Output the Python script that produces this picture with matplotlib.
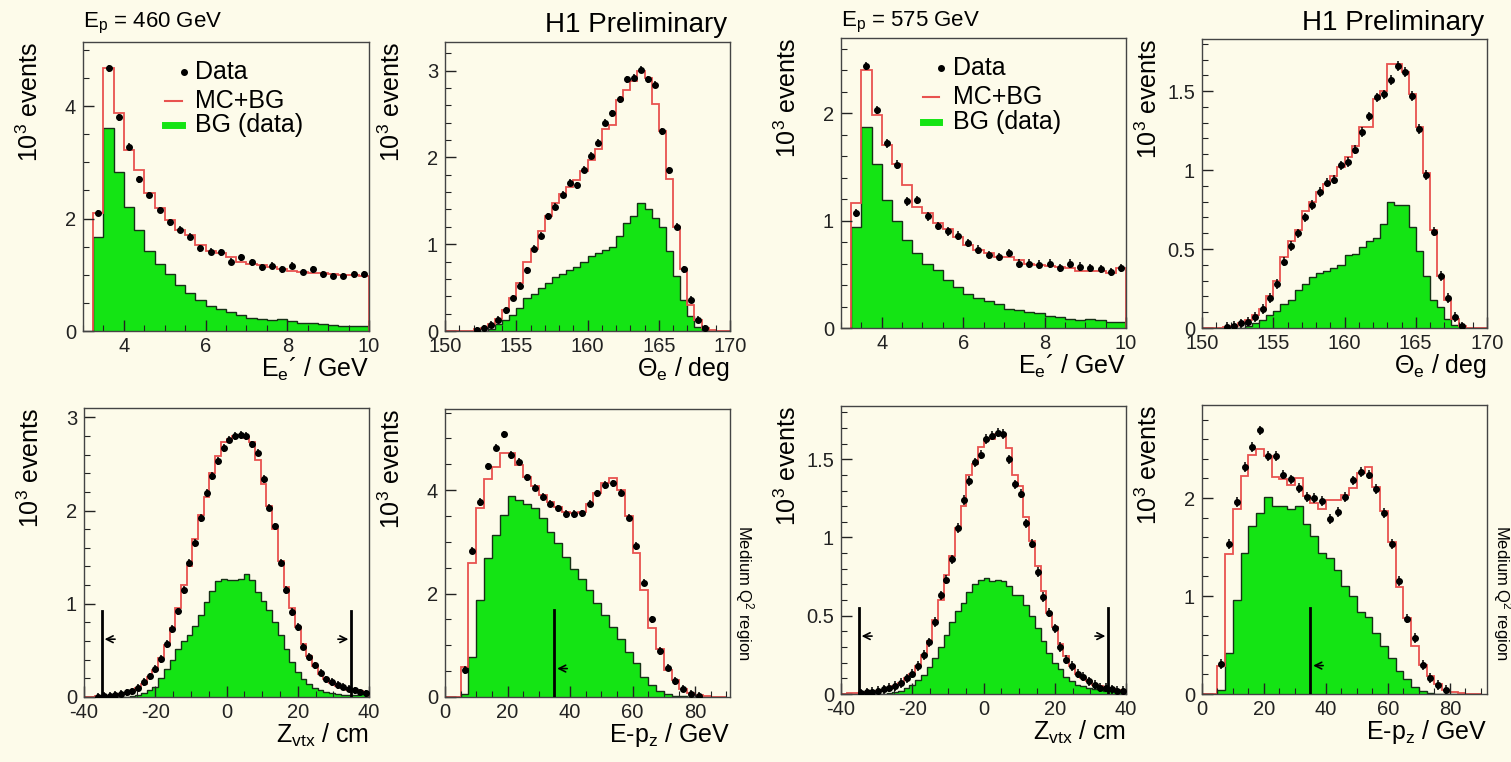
import matplotlib
matplotlib.use('Agg')
import matplotlib.pyplot as plt
import numpy as np
from matplotlib.ticker import MultipleLocator, FuncFormatter

plt.rcParams['font.family'] = ['Liberation Sans', 'DejaVu Sans']
plt.rcParams['mathtext.default'] = 'regular'

W, H = 1511, 762
BG = '#fdfbea'
GREEN = '#14e414'
RED = '#e8524f'

# ---- E_e' , Ep = 460 GeV (bins 3.25..10, width 0.25)
ee460_data = [2.10, 4.67, 3.80, 3.28, 2.70, 2.42, 2.15, 1.93, 1.80, 1.68, 1.47, 1.41, 1.40, 1.23,
              1.31, 1.22, 1.13, 1.16, 1.10, 1.16, 1.05, 1.10, 1.01, 0.98, 0.98, 1.01, 1.01]
ee460_mc = [2.09, 4.67, 3.87, 3.22, 2.86, 2.45, 2.18, 1.97, 1.80, 1.71, 1.53, 1.43, 1.38, 1.32,
            1.23, 1.20, 1.17, 1.14, 1.11, 1.07, 1.05, 1.04, 1.03, 1.01, 1.00, 1.00, 0.98]
ee460_bg = [1.68, 3.61, 2.83, 2.21, 1.80, 1.43, 1.20, 1.01, 0.82, 0.68, 0.55, 0.44, 0.40, 0.33,
            0.28, 0.24, 0.21, 0.20, 0.22, 0.17, 0.15, 0.14, 0.12, 0.11, 0.09, 0.09, 0.09]

# ---- Theta_e, Ep = 460 GeV (bins 150..170, width 0.5)
th460_data = [0, 0, 0, 0, 0.01, 0.03, 0.07, 0.13, 0.24, 0.38, 0.52, 0.70, 0.95, 1.10, 1.32, 1.43,
              1.57, 1.71, 1.68, 1.86, 2.02, 2.17, 2.40, 2.51, 2.67, 2.90, 2.92, 3.01, 2.90, 2.84,
              2.30, 1.85, 1.20, 0.71, 0.36, 0.13, 0.03, 0, 0, 0]
th460_mc = [0, 0, 0, 0.005, 0.02, 0.04, 0.08, 0.14, 0.24, 0.38, 0.55, 0.80, 0.95, 1.15, 1.33, 1.48,
            1.58, 1.66, 1.74, 1.84, 1.97, 2.10, 2.33, 2.37, 2.66, 2.78, 2.88, 3.00, 2.92, 2.62,
            2.30, 1.75, 1.20, 0.72, 0.30, 0.13, 0.03, 0.01, 0, 0]
th460_bg = [0, 0, 0, 0, 0, 0.005, 0.02, 0.08, 0.13, 0.18, 0.26, 0.38, 0.43, 0.49, 0.55, 0.62,
            0.66, 0.70, 0.74, 0.80, 0.86, 0.90, 0.93, 0.97, 1.10, 1.25, 1.33, 1.48, 1.40, 1.30,
            1.20, 0.92, 0.63, 0.36, 0.17, 0.05, 0.01, 0, 0, 0]

# ---- E_e' , Ep = 575 GeV
ee575_data = [1.07, 2.44, 2.03, 1.72, 1.52, 1.18, 1.19, 1.04, 0.95, 0.90, 0.86, 0.79, 0.73, 0.68,
              0.66, 0.70, 0.60, 0.60, 0.59, 0.60, 0.56, 0.60, 0.57, 0.56, 0.55, 0.52, 0.56]
ee575_mc = [1.16, 2.40, 1.98, 1.70, 1.53, 1.33, 1.13, 1.07, 0.98, 0.92, 0.85, 0.77, 0.73, 0.70,
            0.66, 0.66, 0.63, 0.60, 0.59, 0.58, 0.57, 0.56, 0.53, 0.53, 0.53, 0.51, 0.56]
ee575_bg = [0.94, 1.87, 1.53, 1.19, 1.00, 0.82, 0.70, 0.60, 0.54, 0.45, 0.38, 0.32, 0.28, 0.25,
            0.22, 0.18, 0.17, 0.15, 0.14, 0.11, 0.10, 0.08, 0.07, 0.08, 0.07, 0.06, 0.06]

# ---- Theta_e, Ep = 575 GeV
th575_data = [0, 0, 0, 0.005, 0.015, 0.03, 0.04, 0.07, 0.12, 0.19, 0.28, 0.42, 0.52, 0.60, 0.70,
              0.78, 0.86, 0.92, 0.94, 1.03, 1.05, 1.13, 1.24, 1.34, 1.46, 1.48, 1.57, 1.66, 1.62,
              1.47, 1.26, 0.97, 0.61, 0.33, 0.19, 0.07, 0.01, 0, 0, 0]
th575_mc = [0, 0, 0, 0.005, 0.015, 0.03, 0.05, 0.08, 0.12, 0.20, 0.30, 0.45, 0.55, 0.62, 0.74,
            0.80, 0.86, 0.91, 0.96, 1.02, 1.08, 1.15, 1.27, 1.27, 1.45, 1.50, 1.67, 1.67, 1.62,
            1.48, 1.27, 0.98, 0.62, 0.33, 0.18, 0.06, 0.01, 0, 0, 0]
th575_bg = [0, 0, 0, 0, 0, 0, 0.01, 0.03, 0.05, 0.08, 0.11, 0.15, 0.18, 0.24, 0.28, 0.32, 0.35,
            0.36, 0.38, 0.40, 0.46, 0.47, 0.51, 0.55, 0.57, 0.66, 0.80, 0.78, 0.78, 0.64, 0.49,
            0.33, 0.18, 0.13, 0.06, 0.02, 0.005, 0, 0, 0]

# ---- Z_vtx, Ep = 460 GeV (bins -40..40, width 1.6)
zv460_data = [0, 0, 0.005, 0.01, 0.015, 0.02, 0.035, 0.05, 0.06, 0.10, 0.16, 0.22, 0.30, 0.41,
              0.57, 0.73, 0.92, 1.15, 1.44, 1.65, 1.92, 2.19, 2.37, 2.53, 2.67, 2.76, 2.80, 2.81,
              2.80, 2.71, 2.62, 2.34, 2.03, 1.83, 1.44, 1.15, 0.91, 0.75, 0.54, 0.43, 0.34, 0.26,
              0.19, 0.16, 0.13, 0.11, 0.09, 0.07, 0.05, 0.04]
zv460_mc = [0.003, 0.005, 0.007, 0.01, 0.015, 0.022, 0.03, 0.045, 0.065, 0.095, 0.14, 0.21, 0.29,
            0.42, 0.56, 0.74, 0.95, 1.20, 1.40, 1.69, 1.95, 2.14, 2.40, 2.59, 2.73, 2.77, 2.80,
            2.81, 2.78, 2.73, 2.54, 2.28, 2.05, 1.80, 1.46, 1.18, 0.95, 0.75, 0.57, 0.44, 0.33,
            0.25, 0.19, 0.15, 0.12, 0.10, 0.08, 0.07, 0.06, 0.05]
zv460_bg = [0, 0, 0, 0, 0, 0, 0, 0.005, 0.01, 0.02, 0.04, 0.07, 0.11, 0.20, 0.30, 0.40, 0.52,
            0.60, 0.66, 0.76, 0.88, 1.02, 1.14, 1.24, 1.27, 1.26, 1.26, 1.27, 1.32, 1.25, 1.13,
            1.03, 0.93, 0.80, 0.67, 0.52, 0.38, 0.27, 0.19, 0.14, 0.10, 0.07, 0.05, 0.04, 0.03,
            0.02, 0.02, 0.02, 0.03, 0.04]

# ---- E-pz, Ep = 460 GeV (bins 0..90, width 2.5)
ep460_data = [0, 0, 0.52, 2.83, 3.77, 4.46, 4.82, 5.08, 4.68, 4.55, 4.25, 4.05, 3.87, 3.74, 3.65,
              3.54, 3.54, 3.55, 3.74, 3.94, 4.10, 4.13, 3.95, 3.47, 2.92, 2.21, 1.50, 0.89, 0.57,
              0.31, 0.16, 0.06, 0.02, 0, 0, 0]
ep460_mc = [0, 0, 0.58, 2.59, 3.65, 4.21, 4.44, 4.72, 4.72, 4.48, 4.26, 4.08, 3.90, 3.77, 3.68,
            3.58, 3.55, 3.58, 3.74, 3.94, 4.13, 4.23, 4.00, 3.50, 2.79, 2.06, 1.34, 0.92, 0.53,
            0.32, 0.16, 0.08, 0.03, 0.01, 0.005, 0]
ep460_bg = [0, 0, 0.06, 0.77, 1.87, 2.68, 3.13, 3.52, 3.88, 3.81, 3.73, 3.65, 3.47, 3.19, 2.97,
            2.71, 2.48, 2.29, 2.06, 1.82, 1.58, 1.35, 1.13, 0.87, 0.65, 0.39, 0.23, 0.12, 0.05,
            0.02, 0.01, 0, 0, 0, 0, 0]

# ---- Z_vtx, Ep = 575 GeV
zv575_data = [0, 0, 0, 0.005, 0.01, 0.015, 0.02, 0.03, 0.04, 0.05, 0.07, 0.10, 0.13, 0.18, 0.25,
              0.33, 0.46, 0.63, 0.73, 0.86, 1.06, 1.24, 1.36, 1.48, 1.53, 1.63, 1.65, 1.67, 1.66,
              1.50, 1.34, 1.28, 1.09, 0.96, 0.78, 0.62, 0.52, 0.42, 0.30, 0.22, 0.18, 0.13, 0.11,
              0.08, 0.06, 0.04, 0.04, 0.03, 0.02, 0.02]
zv575_mc = [0.003, 0.004, 0.005, 0.007, 0.01, 0.013, 0.018, 0.025, 0.035, 0.05, 0.07, 0.10, 0.13,
            0.18, 0.25, 0.34, 0.47, 0.60, 0.76, 0.88, 1.06, 1.20, 1.40, 1.47, 1.58, 1.62, 1.63,
            1.66, 1.66, 1.57, 1.40, 1.33, 1.13, 0.98, 0.82, 0.66, 0.52, 0.43, 0.32, 0.24, 0.18,
            0.13, 0.10, 0.08, 0.06, 0.05, 0.04, 0.03, 0.025, 0.02]
zv575_bg = [0, 0, 0, 0, 0, 0, 0, 0, 0.005, 0.01, 0.02, 0.04, 0.06, 0.09, 0.12, 0.17, 0.23, 0.30,
            0.38, 0.46, 0.53, 0.58, 0.65, 0.70, 0.73, 0.74, 0.72, 0.73, 0.72, 0.69, 0.63, 0.63,
            0.57, 0.50, 0.42, 0.34, 0.26, 0.20, 0.16, 0.11, 0.08, 0.06, 0.05, 0.04, 0.03, 0.03,
            0.02, 0.02, 0.02, 0.02]

# ---- E-pz, Ep = 575 GeV
ep575_data = [0, 0, 0.31, 1.53, 1.96, 2.32, 2.52, 2.69, 2.43, 2.43, 2.24, 2.19, 2.10, 2.01, 2.00,
              1.97, 1.79, 1.86, 2.01, 2.18, 2.27, 2.24, 2.09, 1.85, 1.53, 1.15, 0.77, 0.57, 0.30,
              0.16, 0.09, 0.04, 0, 0, 0, 0]
ep575_mc = [0, 0, 0.29, 1.43, 1.89, 2.23, 2.44, 2.50, 2.43, 2.22, 2.19, 2.13, 2.20, 2.02, 1.95,
            1.89, 1.98, 1.98, 2.03, 2.10, 2.26, 2.32, 2.11, 1.87, 1.55, 1.09, 0.78, 0.49, 0.30,
            0.18, 0.10, 0.04, 0.02, 0.01, 0, 0]
ep575_bg = [0, 0, 0.04, 0.42, 0.96, 1.44, 1.71, 1.85, 2.01, 1.92, 1.92, 1.89, 1.92, 1.74, 1.61,
            1.44, 1.39, 1.27, 1.10, 1.00, 0.84, 0.79, 0.62, 0.49, 0.37, 0.23, 0.15, 0.07, 0.03,
            0.01, 0, 0, 0, 0, 0, 0]

ee_edges = np.arange(3.25, 10.001, 0.25)
th_edges = np.arange(150, 170.001, 0.5)
zv_edges = np.linspace(-40, 40, 51)
ep_edges = np.arange(0, 90.001, 2.5)

fig = plt.figure(figsize=(W / 100, H / 100), dpi=100)
fig.patch.set_facecolor(BG)


def rect(l, r, t, b):
    return [l / W, 1 - b / H, (r - l) / W, (b - t) / H]


def draw(ax, edges, data, mc, bg, err, xlim, ylim, xt, yt, xlabel):
    ax.set_facecolor(BG)
    ax.stairs(bg, edges, fill=True, color=GREEN, lw=0)
    ax.stairs(bg, edges, color='#173017', lw=1.0)
    ax.stairs(mc, edges, color=RED, lw=1.3)
    c = 0.5 * (edges[:-1] + edges[1:])
    d = np.asarray(data, float)
    m = d > 0
    ax.errorbar(c[m], d[m], yerr=err, fmt='o', ms=4, color='black', elinewidth=1.1, capsize=0, zorder=5)
    ax.set_xlim(*xlim)
    ax.set_ylim(*ylim)
    ax.xaxis.set_major_locator(MultipleLocator(xt[0]))
    ax.xaxis.set_minor_locator(MultipleLocator(xt[1]))
    ax.yaxis.set_major_locator(MultipleLocator(yt[0]))
    ax.yaxis.set_minor_locator(MultipleLocator(yt[1]))
    fmt = FuncFormatter(lambda v, p: '%g' % round(v, 3))
    ax.xaxis.set_major_formatter(fmt)
    ax.yaxis.set_major_formatter(fmt)
    ax.tick_params(which='both', direction='in', labelsize=14.5, colors='#222222')
    ax.tick_params(which='major', length=8, width=1)
    ax.tick_params(which='minor', length=4, width=0.8)
    ax.tick_params(axis='x', pad=4)
    ax.tick_params(axis='y', pad=5)
    for s in ax.spines.values():
        s.set_color('#444444')
        s.set_linewidth(1)
    axw = ax.get_position().width * W
    axh = ax.get_position().height * H
    ax.text(-53 / axw, 1.0, '10$^3$ events', rotation=90, transform=ax.transAxes,
            va='top', ha='center', fontsize=18)
    ax.text(1.0, -38 / axh, xlabel, transform=ax.transAxes, ha='right', va='center', fontsize=18)


def cuts(ax, xs, h, ya, heads, tails):
    for x in xs:
        ax.plot([x, x], [0, h], color='black', lw=2, zorder=6)
    for hx, tx in zip(heads, tails):
        ax.annotate('', xy=(hx, ya), xytext=(tx, ya),
                    arrowprops=dict(arrowstyle='->', color='black', lw=1.2, mutation_scale=12), zorder=7)


def legend(ax):
    ys = [0.896, 0.795, 0.712]
    ax.plot([0.352], [ys[0]], 'o', ms=4, color='black', transform=ax.transAxes)
    ax.plot([0.287, 0.345], [ys[1]] * 2, color=RED, lw=1.5, transform=ax.transAxes)
    ax.plot([0.287, 0.345], [ys[2]] * 2, color=GREEN, lw=5, transform=ax.transAxes)
    for y, t in zip(ys, ['Data', 'MC+BG', 'BG (data)']):
        ax.text(0.392, y, t, transform=ax.transAxes, va='center', ha='left', fontsize=18)


ee_label = 'E$_e$\u00b4 / GeV'
th_label = '\u0398$_e$ / deg'
zv_label = 'Z$_{vtx}$ / cm'
ep_label = 'E-p$_z$ / GeV'

a1 = fig.add_axes(rect(83, 369, 42, 331))
draw(a1, ee_edges, ee460_data, ee460_mc, ee460_bg, 0.06, (3, 10), (0, 5.14), (2, 0.5), (2, 0.5), ee_label)
legend(a1)

a2 = fig.add_axes(rect(445, 730, 42, 331))
draw(a2, th_edges, th460_data, th460_mc, th460_bg, 0.04, (150, 170), (0, 3.33), (5, 1), (1, 0.2), th_label)

a3 = fig.add_axes(rect(841, 1126, 38, 328))
draw(a3, ee_edges, ee575_data, ee575_mc, ee575_bg, 0.04, (3, 10), (0, 2.70), (2, 0.5), (1, 0.2), ee_label)
legend(a3)

a4 = fig.add_axes(rect(1202, 1487, 39, 328))
draw(a4, th_edges, th575_data, th575_mc, th575_bg, 0.03, (150, 170), (0, 1.83), (5, 1), (0.5, 0.1), th_label)

a5 = fig.add_axes(rect(84, 369, 408, 697))
draw(a5, zv_edges, zv460_data, zv460_mc, zv460_bg, 0.04, (-40, 40), (0, 3.1), (20, 5), (1, 0.2), zv_label)
cuts(a5, [-35, 35], 0.92, 0.62, [-35, 35], [-30.5, 30.5])

a6 = fig.add_axes(rect(445, 730, 409, 697))
draw(a6, ep_edges, ep460_data, ep460_mc, ep460_bg, 0.07, (0, 91.2), (0, 5.57), (20, 5), (2, 0.5), ep_label)
cuts(a6, [35], 1.68, 0.55, [35], [40])

a7 = fig.add_axes(rect(841, 1126, 406, 694))
draw(a7, zv_edges, zv575_data, zv575_mc, zv575_bg, 0.03, (-40, 40), (0, 1.84), (20, 5), (0.5, 0.1), zv_label)
cuts(a7, [-35, 35], 0.55, 0.37, [-35, 35], [-30.5, 30.5])

a8 = fig.add_axes(rect(1202, 1487, 405, 694))
draw(a8, ep_edges, ep575_data, ep575_mc, ep575_bg, 0.05, (0, 92), (0, 2.95), (20, 5), (1, 0.2), ep_label)
cuts(a8, [35], 0.88, 0.29, [35], [40])

fig.text(83 / W, 1 - 23 / H, 'E$_p$ = 460 GeV', ha='left', va='center', fontsize=16)
fig.text(841 / W, 1 - 22 / H, 'E$_p$ = 575 GeV', ha='left', va='center', fontsize=16)
fig.text(727 / W, 1 - 25 / H, 'H1 Preliminary', ha='right', va='center', fontsize=20)
fig.text(1484 / W, 1 - 23 / H, 'H1 Preliminary', ha='right', va='center', fontsize=20)
fig.text(744 / W, 1 - 593 / H, 'Medium Q$^2$ region', rotation=270, ha='center', va='center', fontsize=12)
fig.text(1502 / W, 1 - 593 / H, 'Medium Q$^2$ region', rotation=270, ha='center', va='center', fontsize=12)

fig.savefig('out.png', dpi=100, facecolor=BG)
